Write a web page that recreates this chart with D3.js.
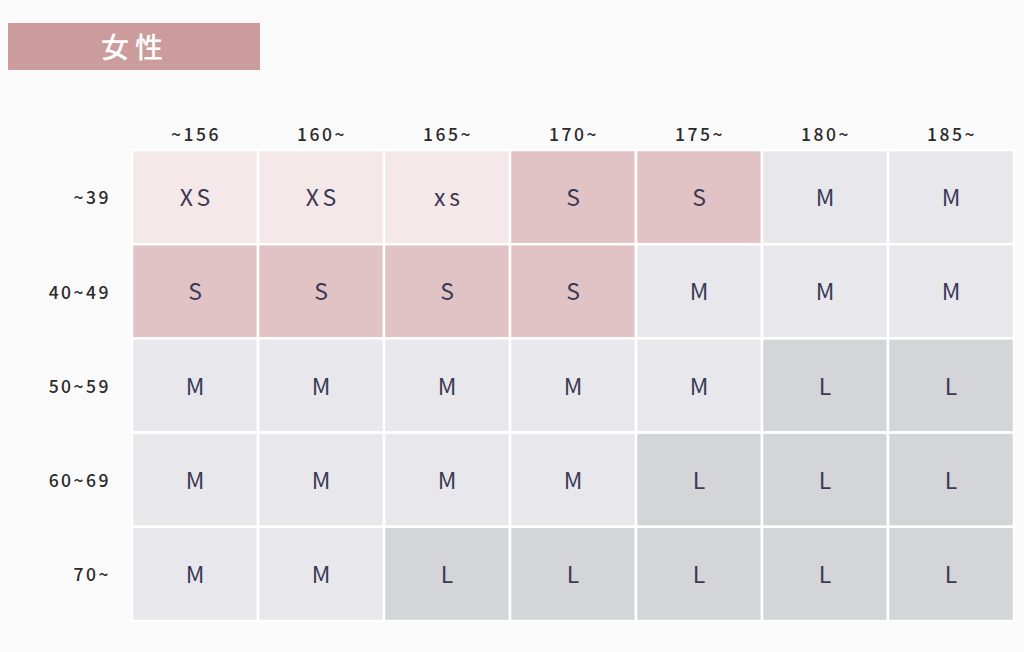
<!DOCTYPE html>
<html><head><meta charset="utf-8">
<script src="https://cdn.jsdelivr.net/npm/d3@7"></script>
<style>
html,body{margin:0;padding:0;background:#fafafa;}
svg{display:block;}
</style></head>
<body>
<script>
const title = "女性";
const heights = ["~156","160~","165~","170~","175~","180~","185~"];
const weights = ["~39","40~49","50~59","60~69","70~"];
const sizes = [
  ["XS","XS","xs","S","S","M","M"],
  ["S","S","S","S","M","M","M"],
  ["M","M","M","M","M","L","L"],
  ["M","M","M","M","L","L","L"],
  ["M","M","L","L","L","L","L"]
];
const sizeKeys = ["XS","S","M","L"];
const sizeColors = ["#f5e8e8","#e1c3c5","#e8e8ec","#d4d5d9"];

const W = 1024, H = 652;
const svg = d3.select("body").append("svg").attr("width", W).attr("height", H);
svg.append("rect").attr("width", W).attr("height", H).attr("fill", "#fafafa");

// title badge
svg.append("rect").attr("x", 8).attr("y", 23).attr("width", 252).attr("height", 47).attr("fill", "#cc9b9b");
svg.append("text").attr("x", 135).attr("y", 46).attr("text-anchor", "middle").attr("dominant-baseline", "central")
  .attr("fill", "#ffffff").attr("font-family", "Noto Sans CJK JP").attr("font-weight", 500)
  .attr("font-size", 28).attr("letter-spacing", 6).text(title);

const x = d3.scaleBand().domain(heights).range([132, 1014]).paddingInner(0);
const y = d3.scaleBand().domain(weights).range([150, 621]).paddingInner(0);
const color = d3.scaleOrdinal().domain(sizeKeys).range(sizeColors);

const cells = [];
sizes.forEach((row, i) => row.forEach((s, j) => cells.push({w: weights[i], h: heights[j], s})));

const g = svg.append("g");
g.selectAll("rect.cell").data(cells).join("rect").attr("class", "cell")
  .attr("x", d => x(d.h)).attr("y", d => y(d.w))
  .attr("width", x.bandwidth()).attr("height", y.bandwidth())
  .attr("fill", d => color(d.s.toUpperCase()))
  .attr("stroke", "#ffffff").attr("stroke-width", 2.5);

g.selectAll("text.cell").data(cells).join("text").attr("class", "cell")
  .attr("x", d => x(d.h) + x.bandwidth() / 2 + (d.s.length > 1 ? 2 : 0))
  .attr("y", d => y(d.w) + y.bandwidth() / 2 - 1)
  .attr("text-anchor", "middle").attr("dominant-baseline", "central")
  .attr("fill", "#3a3a55").attr("font-family", "Noto Sans CJK JP")
  .attr("font-weight", 400)
  .attr("font-size", 23)
  .attr("letter-spacing", d => d.s.length > 1 ? 4 : 0)
  .text(d => d.s);

// column header
const xAxis = d3.axisTop(x).tickSize(0).tickPadding(0);
const gx = svg.append("g").attr("transform", "translate(0,135)").call(xAxis);
gx.select(".domain").remove();
gx.selectAll("text").attr("font-family", "Noto Sans CJK JP").attr("font-size", 17.5)
  .attr("font-weight", 500).attr("fill", "#2b2b2b").attr("letter-spacing", 2.5)
  .attr("dy", "0.35em").attr("dx", 1);

// row header
const yAxis = d3.axisLeft(y).tickSize(0).tickPadding(0);
const gy = svg.append("g").attr("transform", "translate(111,2)").call(yAxis);
gy.select(".domain").remove();
gy.selectAll("text").attr("font-family", "Noto Sans CJK JP").attr("font-size", 17.5)
  .attr("font-weight", 500).attr("fill", "#2b2b2b").attr("letter-spacing", 2.5)
  .attr("dy", "0.3em");
</script>
</body></html>
